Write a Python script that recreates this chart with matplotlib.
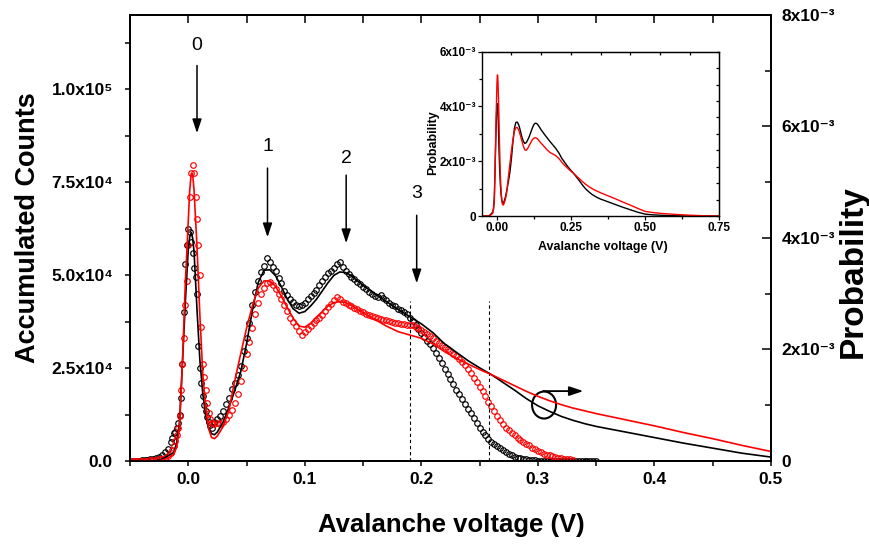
import numpy as np
import matplotlib
matplotlib.use('Agg')
import matplotlib.pyplot as plt
from matplotlib.patches import Ellipse

plt.rcParams['font.family'] = ['Liberation Sans', 'DejaVu Sans']

# --- measured histograms (accumulated counts, x1000) ---
# coarse grid from -0.05 V, fine grid around the 0-peak from -0.015 V, coarse again from 0.0225 V
step = 0.0025
fine_step = 0.00125

black_low = [0.1, 0.1, 0.1, 0.1, 0.2, 0.2, 0.3, 0.4, 0.5, 0.8, 1.1, 1.6, 2.3, 3.3]
black_peak = [5.0, 6.3, 7.4, 7.8, 9.0, 10.2, 12.5, 17.0, 26.0, 40.0, 53.0, 58.0, 62.5, 61.5,
              59.0, 56.0, 52.0, 49.5, 45.0, 31.0, 25.0, 21.0, 17.5, 15.0, 13.5, 11.8, 10.4,
              9.6, 9.0]
black_high = [10.4, 11.2, 12.0, 13.5, 15.2, 17.0, 19.3, 21.0, 23.2, 25.6,
              29.5, 33.0, 37.0, 42.0, 45.5, 48.5, 50.8, 52.5, 54.5, 53.6,
              52.3, 51.0, 49.2, 47.8, 45.8, 44.6, 43.7, 42.8, 42.0, 41.6,
              41.9, 42.6, 43.5, 44.4, 45.2, 46.0, 47.3, 48.4, 49.6, 50.5,
              51.2, 52.0, 53.0, 53.4, 52.2, 51.0, 50.4, 49.6, 49.0, 48.2,
              47.6, 46.8, 46.2, 45.4, 44.8, 44.5, 44.0, 44.6, 43.8, 43.2,
              42.4, 42.0, 41.6, 41.0, 40.6, 40.2, 39.6, 38.6, 37.6, 36.5,
              35.4, 34.3, 33.3, 32.4, 31.4, 30.3, 29.0, 27.6, 26.3, 24.8,
              23.4, 22.0, 20.6, 19.2, 17.9, 16.6, 15.2, 14.0, 12.8, 11.5,
              10.2, 9.0, 7.9, 6.9, 6.0, 5.2, 4.6, 4.0, 3.5, 2.9,
              2.4, 1.9, 1.5, 1.2, 0.9, 0.7, 0.5, 0.4, 0.3, 0.2,
              0.2, 0.1, 0.1, 0.1, 0.1, 0.1, 0.1, 0.0, 0.0, 0.0,
              0.0, 0.0, 0.0, 0.0, 0.0, 0.0, 0.0, 0.0, 0.0, 0.0, 0.0, 0.0]

red_low = [0.0, 0.0, 0.0, 0.0, 0.1, 0.1, 0.1, 0.2, 0.2, 0.3, 0.4, 0.6, 0.9, 1.4]
red_peak = [2.2, 3.0, 3.9, 5.5, 7.0, 9.0, 12.0, 19.0, 26.0, 33.0, 42.0, 48.5, 58.0, 71.0,
            77.5, 79.5, 77.5, 71.0, 65.0, 58.0, 50.0, 36.0, 26.0, 22.5, 19.0, 15.5, 13.0,
            11.2, 10.2]
red_high = [10.0, 10.2, 10.0, 10.4, 11.2, 12.3, 13.8, 15.5, 18.0, 21.5,
            25.0, 28.8, 32.0, 35.8, 39.5, 42.5, 44.8, 46.5, 47.8, 48.2,
            47.4, 46.2, 45.0, 43.5, 42.0, 40.3, 38.6, 37.5, 36.2, 35.0,
            34.0, 34.8, 35.6, 36.2, 37.2, 38.0, 38.6, 39.4, 40.4, 41.4,
            42.2, 43.2, 44.2, 43.6, 42.8, 42.4, 42.0, 41.6, 41.2, 40.8,
            40.4, 40.0, 39.6, 39.3, 38.9, 38.7, 38.4, 38.2, 38.0, 37.8,
            37.6, 37.4, 37.2, 37.0, 36.9, 36.8, 36.7, 36.6, 36.5, 36.1,
            35.7, 35.2, 34.8, 34.2, 33.6, 33.0, 32.4, 31.8, 31.1, 30.6,
            30.0, 29.5, 28.9, 28.2, 27.5, 26.7, 25.8, 24.8, 23.6, 22.4,
            21.2, 20.0, 18.8, 17.4, 16.0, 14.8, 13.4, 12.2, 11.0, 10.0,
            9.0, 8.2, 7.6, 7.0, 6.3, 5.7, 5.2, 4.7, 4.2, 3.6,
            3.1, 2.7, 2.3, 2.0, 1.7, 1.5, 1.3, 1.1, 0.9, 0.8,
            0.6, 0.5, 0.4, 0.3]

# --- model probability curves (x1e-3) ---
black_line_x = [-0.05, -0.03, -0.025, -0.02, -0.015, -0.0125, -0.01, -0.0075, -0.005, -0.0025,
                0.0, 0.00125, 0.0025, 0.00375, 0.005, 0.0075, 0.01, 0.0125, 0.015, 0.0175,
                0.02, 0.0225, 0.025, 0.03, 0.035, 0.04, 0.045, 0.05, 0.055, 0.06,
                0.065, 0.07, 0.075, 0.08, 0.085, 0.09, 0.095, 0.1, 0.105, 0.11,
                0.115, 0.12, 0.125, 0.13, 0.135, 0.14, 0.15, 0.16, 0.17, 0.18,
                0.19, 0.2, 0.21, 0.22, 0.23, 0.24, 0.25, 0.26, 0.27, 0.28,
                0.29, 0.3, 0.31, 0.32, 0.33, 0.34, 0.35, 0.375, 0.4, 0.425,
                0.45, 0.475, 0.5, 0.525, 0.55, 0.6, 0.65, 0.7, 0.75]
black_line_y = [0.0, 0.0, 0.01, 0.06, 0.12, 0.15, 0.32, 0.7, 1.75, 2.85,
                3.8, 4.02, 4.1, 4.0, 3.75, 2.72, 1.8, 1.2, 0.82, 0.58,
                0.49, 0.47, 0.52, 0.7, 0.97, 1.27, 1.6, 2.1, 2.7, 3.2,
                3.42, 3.43, 3.32, 3.12, 2.9, 2.73, 2.65, 2.68, 2.78, 2.9,
                3.05, 3.2, 3.33, 3.39, 3.38, 3.32, 3.15, 3.0, 2.86, 2.72,
                2.59, 2.46, 2.3, 2.1, 1.95, 1.8, 1.67, 1.55, 1.41, 1.27,
                1.12, 0.99, 0.89, 0.8, 0.73, 0.67, 0.62, 0.52, 0.42, 0.32,
                0.23, 0.14, 0.07, 0.045, 0.03, 0.01, 0.0, 0.0, 0.0]

red_line_x = [-0.05, -0.03, -0.025, -0.02, -0.015, -0.0125, -0.01, -0.0075, -0.005, -0.0025,
              0.0, 0.00125, 0.0025, 0.00375, 0.005, 0.0075, 0.01, 0.0125, 0.015, 0.0175,
              0.02, 0.0225, 0.025, 0.03, 0.035, 0.04, 0.045, 0.05, 0.055, 0.06,
              0.065, 0.07, 0.075, 0.08, 0.085, 0.09, 0.095, 0.1, 0.105, 0.11,
              0.115, 0.12, 0.125, 0.13, 0.135, 0.14, 0.15, 0.16, 0.17, 0.18,
              0.19, 0.2, 0.21, 0.22, 0.23, 0.24, 0.25, 0.26, 0.27, 0.28,
              0.29, 0.3, 0.31, 0.32, 0.33, 0.34, 0.35, 0.375, 0.4, 0.425,
              0.45, 0.475, 0.5, 0.525, 0.55, 0.6, 0.65, 0.7, 0.75]
red_line_y = [0.0, 0.0, 0.0, 0.03, 0.08, 0.12, 0.25, 0.6, 1.75, 3.2,
              4.3, 4.85, 5.15, 5.15, 4.85, 3.85, 2.6, 1.55, 0.95, 0.58,
              0.42, 0.4, 0.45, 0.62, 0.92, 1.45, 1.92, 2.38, 2.78, 3.1,
              3.23, 3.23, 3.13, 2.95, 2.75, 2.56, 2.42, 2.4, 2.47, 2.58,
              2.68, 2.78, 2.84, 2.86, 2.84, 2.79, 2.66, 2.54, 2.42, 2.32,
              2.26, 2.2, 2.1, 1.96, 1.84, 1.74, 1.64, 1.55, 1.45, 1.35,
              1.25, 1.16, 1.08, 1.01, 0.95, 0.9, 0.85, 0.74, 0.63, 0.51,
              0.4, 0.28, 0.17, 0.13, 0.1, 0.06, 0.03, 0.01, 0.0]

# marker positions of the peaks (V) and the two dashed guides
peak_labels = ['0', '1', '2', '3']
peak_x = [0.0075, 0.068, 0.1355, 0.196]
guide_x = [0.1904, 0.2584]
guide_top = 43e3

x_ticks = [0.0, 0.1, 0.2, 0.3, 0.4, 0.5]
x_ticklabels = ['0.0', '0.1', '0.2', '0.3', '0.4', '0.5']
count_ticks = [0, 2.5e4, 5e4, 7.5e4, 1e5]
count_ticklabels = ['0.0', '2.5x10\u2074', '5.0x10\u2074', '7.5x10\u2074', '1.0x10\u2075']
prob_ticks = [0, 2e-3, 4e-3, 6e-3, 8e-3]
prob_ticklabels = ['0', '2x10\u207b\u00b3', '4x10\u207b\u00b3', '6x10\u207b\u00b3', '8x10\u207b\u00b3']
inset_xticks = [0.0, 0.25, 0.5, 0.75]
inset_xticklabels = ['0.00', '0.25', '0.50', '0.75']
inset_yticks = [0, 2e-3, 4e-3, 6e-3]
inset_yticklabels = ['0', '2x10\u207b\u00b3', '4x10\u207b\u00b3', '6x10\u207b\u00b3']


def build_x(n_low, n_peak, n_high):
    x_low = -0.05 + step * np.arange(n_low)
    x_peak = -0.015 + fine_step * np.arange(n_peak)
    x_high = 0.0225 + step * np.arange(n_high)
    return np.concatenate([x_low, x_peak, x_high])


black_x = build_x(len(black_low), len(black_peak), len(black_high))
black_y = np.array(black_low + black_peak + black_high) * 1e3
red_x = build_x(len(red_low), len(red_peak), len(red_high))
red_y = np.array(red_low + red_peak + red_high) * 1e3

fig = plt.figure(figsize=(8.7, 5.48), dpi=100)
ax = fig.add_axes([0.1494, 0.1588, 0.7368, 0.8139])

ax.plot(black_x, black_y, 'o', mfc='none', mec='black', ms=4.0, mew=0.85)
ax.plot(red_x, red_y, 'o', mfc='none', mec='#ff0000', ms=4.0, mew=0.85)
ax.vlines(guide_x, 0, guide_top, colors='black', linestyles=(0, (3, 2.5)), lw=0.8)

ax.set_xlim(-0.05, 0.5)
ax.set_ylim(0, 1.2e5)
ax.set_xticks(x_ticks)
ax.set_xticklabels(x_ticklabels, fontweight='bold')
ax.set_xticks(np.arange(-0.05, 0.5, 0.1), minor=True)
ax.set_yticks(count_ticks)
ax.set_yticklabels(count_ticklabels, fontweight='bold')
ax.set_yticks(np.arange(1.25e4, 1.2e5, 2.5e4), minor=True)
ax.tick_params(axis='x', which='both', direction='out', length=3.8, width=1.1,
               labelsize=12.5, pad=4, top=False)
ax.tick_params(axis='y', which='both', direction='out', length=3.8, width=1.1,
               labelsize=12.5, pad=8.5, right=False)
for s in ax.spines.values():
    s.set_linewidth(1.3)

top = ax.secondary_xaxis('top')
top.set_xticks(np.arange(-0.05, 0.501, 0.05))
top.tick_params(direction='in', length=5.5, width=1.1, labeltop=False)
top.spines['top'].set_linewidth(1.3)

ax.set_xlabel('Avalanche voltage (V)', fontsize=18.5, fontweight='bold')
ax.xaxis.set_label_coords(0.5008, -0.1166)
ax.set_ylabel('Accumulated Counts', fontsize=19.5, fontweight='bold')
ax.yaxis.set_label_coords(-0.1395, 0.5235)

# peak markers
for lab, px, ty, ys, ye in zip(peak_labels, peak_x,
                               [111.8e3, 84.5e3, 81.4e3, 72e3],
                               [106.4e3, 78.8e3, 76.9e3, 66.1e3],
                               [88.2e3, 60.2e3, 58.6e3, 47.8e3]):
    ax.text(px, ty, lab, fontsize=14, ha='center', va='center')
    ax.annotate('', xy=(px, ye), xytext=(px, ys),
                arrowprops=dict(arrowstyle='-|>,head_length=0.6,head_width=0.2',
                                mutation_scale=14, color='black', lw=1.1,
                                shrinkA=0, shrinkB=0))

ax.add_patch(Ellipse((0.3053, 15.05e3), 0.0206, 7.26e3, fill=False, ec='black', lw=1.5))
ax.annotate('', xy=(0.339, 18.8e3), xytext=(0.3045, 18.8e3),
            arrowprops=dict(arrowstyle='-|>,head_length=0.6,head_width=0.2',
                            mutation_scale=14, color='black', lw=1.3,
                            shrinkA=0, shrinkB=0))

# probability axis
ax2 = ax.twinx()
ax2.plot(black_line_x, np.array(black_line_y) * 1e-3, color='black', lw=1.2)
ax2.plot(red_line_x, np.array(red_line_y) * 1e-3, color='#ff0000', lw=1.2)
ax2.set_xlim(-0.05, 0.5)
ax2.set_ylim(0, 8e-3)
ax2.set_yticks(prob_ticks)
ax2.set_yticklabels(prob_ticklabels, fontweight='bold')
ax2.set_yticks([1e-3, 3e-3, 5e-3, 7e-3], minor=True)
ax2.tick_params(axis='y', which='major', direction='in', length=6.5, width=1.1,
                labelsize=12.5, pad=7.7)
ax2.tick_params(axis='y', which='minor', direction='in', length=4.3, width=1.1)
for s in ax2.spines.values():
    s.set_linewidth(1.3)
ax2.set_ylabel('Probability', fontsize=24, fontweight='bold', rotation=90)
ax2.yaxis.set_label_coords(1.104, 0.4238)

# inset with full probability curves
axin = fig.add_axes([0.5537, 0.6058, 0.2731, 0.2998])
axin.plot(black_line_x, np.array(black_line_y) * 1e-3, color='black', lw=1.0)
axin.plot(red_line_x, np.array(red_line_y) * 1e-3, color='#ff0000', lw=1.0)
axin.set_xlim(-0.05, 0.75)
axin.set_ylim(0, 6e-3)
axin.set_xticks(inset_xticks)
axin.set_xticklabels(inset_xticklabels, fontweight='bold')
axin.set_xticks(np.arange(0.125, 0.75, 0.25), minor=True)
axin.set_yticks(inset_yticks)
axin.set_yticklabels(inset_yticklabels, fontweight='bold')
axin.set_yticks([1e-3, 3e-3, 5e-3], minor=True)
axin.tick_params(which='major', direction='out', length=3, width=0.9, labelsize=8.5, pad=1)
axin.tick_params(which='minor', direction='out', length=2, width=0.9)
for s in axin.spines.values():
    s.set_linewidth(1.0)
in_top = axin.secondary_xaxis('top')
in_top.set_xticks(np.arange(0.05, 0.75, 0.1))
in_top.tick_params(direction='in', length=2.5, width=0.9, labeltop=False)
in_right = axin.secondary_yaxis('right')
in_right.set_yticks(np.linspace(0, 6e-3, 11))
in_right.tick_params(direction='in', length=2.5, width=0.9, labelright=False)
axin.set_xlabel('Avalanche voltage (V)', fontsize=9, fontweight='bold')
axin.xaxis.set_label_coords(0.508, -0.15)
axin.set_ylabel('Probability', fontsize=9, fontweight='bold')
axin.yaxis.set_label_coords(-0.18, 0.447)

fig.savefig('out.png', dpi=100)
